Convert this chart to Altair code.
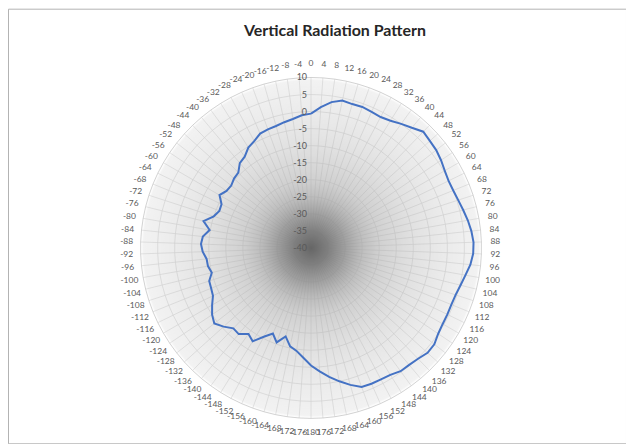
import altair as alt
import pandas as pd

TITLE = "Vertical Radiation Pattern"

# category angles (degrees), clockwise from the top, as labelled in the chart
ANGLES = [0, 4, 8, 12, 16, 20, 24, 28, 32, 36, 40, 44, 48, 52, 56, 60, 64, 68, 72, 76,
          80, 84, 88, 92, 96, 100, 104, 108, 112, 116, 120, 124, 128, 132, 136, 140, 144,
          148, 152, 156, 160, 164, 168, 172, 176,
          -180, -176, -172, -168, -164, -160, -156, -152, -148, -144, -140, -136, -132,
          -128, -124, -120, -116, -112, -108, -104, -100, -96, -92, -88, -84, -80, -76,
          -72, -68, -64, -60, -56, -52, -48, -44, -40, -36, -32, -28, -24, -20, -16, -12,
          -8, -4]

# gain (dB) for each angle above
GAIN_DB = [-0.6, 1.4, 3.2, 4.2, 3.9, 4.0, 3.7, 3.5, 4.0, 5.0,
           6.0, 7.4, 6.9, 6.6, 6.0, 5.3, 4.9, 5.0, 5.4, 6.0,
           6.7, 7.3, 7.7, 7.6, 7.0, 6.0, 5.2, 4.6, 4.4, 4.5,
           4.6, 5.0, 5.9, 6.0, 5.2, 4.8, 4.7, 3.9, 3.7, 3.6,
           3.4, 1.8, 0.0, -1.8, -3.7,
           -5.5, -7.7, -9.5, -10.5, -13.0, -10.5, -12.5, -10.5, -7.7, -8.8,
           -7.0, -7.2, -5.5, -4.0, -5.0, -6.5, -8.0, -8.4, -8.6, -10.0,
           -9.3, -9.2, -8.2, -7.7, -8.1, -9.8, -7.5, -10.0, -11.0, -10.8,
           -9.0, -10.1, -10.3, -9.6, -9.3, -7.5, -6.9, -5.3, -4.5, -3.3,
           -3.0, -2.8, -2.3, -1.8, -1.0]

# radial axis
AXIS_LEVELS = [10, 5, 0, -5, -10, -15, -20, -25, -30, -35, -40]
R_MIN, R_MAX = -40, 10

# ---- layout (pixels) ----
W, H = 620, 436
CX, CY = 304, 240
PX = 3.42          # pixels per dB
LABEL_GAP = 4.1    # dB units beyond the outer ring for category labels

x_dom = [-CX / PX, (W - CX) / PX]
y_dom = [-(H - CY) / PX, CY / PX]
xs = alt.Scale(domain=x_dom, nice=False, zero=False)
ys = alt.Scale(domain=y_dom, nice=False, zero=False)

n = len(ANGLES)
line_df = pd.DataFrame({
    "idx": list(range(n + 1)),
    "angle": ANGLES + [ANGLES[0]],
    "gain": GAIN_DB + [GAIN_DB[0]],
})

grid_rows = []
for lev in AXIS_LEVELS[:-1]:
    for i in range(n + 1):
        grid_rows.append({"level": lev, "idx": i, "angle": ANGLES[i % n]})
grid_df = pd.DataFrame(grid_rows)

spoke_df = pd.DataFrame({"angle": ANGLES})
axis_df = pd.DataFrame({"level": AXIS_LEVELS})
bg_df = pd.DataFrame({"lo": [R_MIN], "hi": [R_MAX]})

polar = dict(
    xp="(datum.rr) * sin(datum.angle * PI / 180)",
    yp="(datum.rr) * cos(datum.angle * PI / 180)",
)

# translucent shading laid over the grid: dark and opaque at the centre,
# light and see-through towards the outer ring
gradient = {
    "gradient": "radial",
    "x1": 0.5, "y1": 0.5, "r1": 0,
    "x2": 0.5, "y2": 0.5, "r2": 0.5,
    "stops": [
        {"offset": 0.0, "color": "rgba(94,94,94,0.93)"},
        {"offset": 0.1, "color": "rgba(116,116,116,0.9)"},
        {"offset": 0.2, "color": "rgba(143,143,143,0.85)"},
        {"offset": 0.3, "color": "rgba(168,168,168,0.75)"},
        {"offset": 0.4, "color": "rgba(177,177,177,0.6)"},
        {"offset": 0.6, "color": "rgba(188,188,188,0.45)"},
        {"offset": 0.8, "color": "rgba(198,198,198,0.35)"},
        {"offset": 0.985, "color": "rgba(212,212,212,0.3)"},
        {"offset": 1.0, "color": "rgba(255,255,255,0)"},
    ],
}

shade = alt.Chart(bg_df).transform_calculate(
    a="-(datum.hi - datum.lo)", b="datum.hi - datum.lo"
).mark_rect(fill=gradient).encode(
    x=alt.X("a:Q", scale=xs, axis=None),
    x2="b:Q",
    y=alt.Y("a:Q", scale=ys, axis=None),
    y2="b:Q",
)

spokes = alt.Chart(spoke_df).transform_calculate(
    rr=f"{R_MAX - R_MIN}", zero="0", **polar
).mark_rule(color="#cfcfcf", strokeWidth=0.6).encode(
    x=alt.X("zero:Q", scale=xs, axis=None),
    y=alt.Y("zero:Q", scale=ys, axis=None),
    x2="xp:Q",
    y2="yp:Q",
)

grid = alt.Chart(grid_df).transform_calculate(
    rr=f"datum.level - ({R_MIN})", **polar
).mark_line(strokeWidth=0.7).encode(
    x=alt.X("xp:Q", scale=xs, axis=None),
    y=alt.Y("yp:Q", scale=ys, axis=None),
    detail="level:N",
    order="idx:Q",
    color=alt.condition(f"datum.level == {R_MAX}", alt.value("#bdbdbd"), alt.value("#d4d4d4")),
)

curve = alt.Chart(line_df).transform_calculate(
    rr=f"datum.gain - ({R_MIN})", **polar
).mark_line(color="#4472C4", strokeWidth=2).encode(
    x=alt.X("xp:Q", scale=xs, axis=None),
    y=alt.Y("yp:Q", scale=ys, axis=None),
    order="idx:Q",
)

cat_labels = alt.Chart(spoke_df).transform_calculate(
    rr=f"{R_MAX - R_MIN + LABEL_GAP}", lbl="'' + datum.angle", **polar
).mark_text(font="Lato", fontSize=8.5, color="#595959", align="center", baseline="middle").encode(
    x=alt.X("xp:Q", scale=xs, axis=None),
    y=alt.Y("yp:Q", scale=ys, axis=None),
    text="lbl:N",
)

axis_labels = alt.Chart(axis_df).transform_calculate(
    rr=f"datum.level - ({R_MIN})", zero="0", lbl="'' + datum.level"
).mark_text(font="Lato", fontSize=9, color="#595959", align="right", baseline="middle", dx=-4).encode(
    x=alt.X("zero:Q", scale=xs, axis=None),
    y=alt.Y("rr:Q", scale=ys, axis=None),
    text="lbl:N",
)

chart = alt.layer(spokes, grid, shade, curve, axis_labels, cat_labels).properties(
    width=W,
    height=H,
    padding=0,
    autosize=alt.AutoSizeParams(type="none"),
    title=alt.TitleParams(
        TITLE, font="Lato", fontSize=16, fontWeight="bold", color="#262626",
        anchor="middle", offset=-30, dx=18,
    ),
).configure_view(stroke="#b3b3b3", strokeWidth=1)

chart.save("out.html", embed_options={"renderer": "svg", "actions": False})
